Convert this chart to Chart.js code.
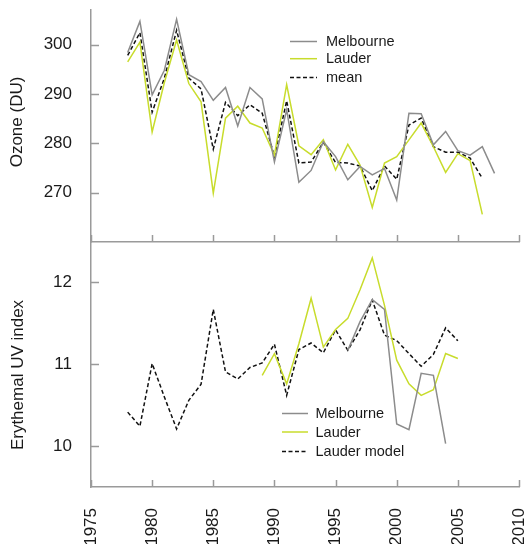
<!DOCTYPE html>
<html><head><meta charset="utf-8">
<script src="https://cdn.jsdelivr.net/npm/chart.js@4.4.1/dist/chart.umd.min.js"></script>
<style>
html,body{margin:0;padding:0;background:#fff;}
#wrap{position:relative;width:524px;height:544px;overflow:hidden;}
canvas{position:absolute;left:0;top:0;}
</style></head><body>
<div id="wrap"><canvas id="topc" width="524" height="544"></canvas><canvas id="botc" width="524" height="544"></canvas></div>
<script>
// ---------- data ----------
const ozoneYears = [1978,1979,1980,1981,1982,1983,1984,1985,1986,1987,1988,1989,1990,1991,1992,1993,1994,1995,1996,1997,1998,1999,2000,2001,2002,2003,2004,2005,2006,2007,2008];
const melbourneOzone = [298.4,304.7,289.8,294.8,305.1,293.9,292.5,288.7,291.3,283.5,291.3,289.0,276.2,286.8,272.1,274.5,280.3,277.3,272.6,275.3,273.6,274.9,268.5,286.1,286.0,279.7,282.4,278.5,277.6,279.3,273.9];
const lauderOzone = [296.5,300.5,282.3,292.3,300.9,292.1,288.4,269.9,285.1,287.5,284.1,283.1,277.6,291.9,279.5,277.7,280.7,274.6,279.8,275.6,267.0,276.0,277.3,280.7,284.1,279.3,274.1,277.9,276.5,265.6];
const meanOzone = [297.8,302.4,286.3,293.2,302.9,293.2,291.0,278.8,288.3,285.6,287.8,286.1,277.3,288.6,276.0,276.2,280.2,276.1,276.0,275.4,270.4,275.4,272.7,283.7,285.1,279.3,278.2,278.2,277.0,272.9];

const modelYears = [1978,1979,1980,1981,1982,1983,1984,1985,1986,1987,1988,1989,1990,1991,1992,1993,1994,1995,1996,1997,1998,1999,2000,2001,2002,2003,2004,2005];
const lauderModelUV = [10.415,10.243,11.008,10.6,10.21,10.56,10.755,11.67,10.906,10.82,10.96,11.016,11.245,10.62,11.18,11.26,11.14,11.42,11.17,11.42,11.785,11.356,11.29,11.13,10.975,11.12,11.445,11.286];
const lauderUVYears = [1989,1990,1991,1992,1993,1994,1995,1996,1997,1998,1999,2000,2001,2002,2003,2004,2005];
const lauderUV = [10.865,11.13,10.76,11.25,11.806,11.21,11.425,11.56,11.91,12.30,11.72,11.05,10.76,10.62,10.69,11.13,11.07];
const melbourneUVYears = [1996,1997,1998,1999,2000,2001,2002,2003,2004];
const melbourneUV = [11.17,11.52,11.79,11.67,10.27,10.20,10.89,10.865,10.03];

const yearTicks = [1975,1980,1985,1990,1995,2000,2005,2010];
const ozoneTicks = [270,280,290,300];
const uvTicks = [10,11,12];
const ozoneTitle = 'Ozone (DU)';
const uvTitle = 'Erythemal UV index';
const ozoneLegend = ['Melbourne','Lauder','mean'];
const uvLegend = ['Melbourne','Lauder','Lauder model'];

// ---------- styles ----------
const GRAY = '#8c8c8c', LIME = '#c8dc2c', BLACK = '#111111', AXIS = '#9a9a9a';
const FONT = '"Liberation Sans", Arial, sans-serif';
const pts = (xs, ys) => xs.map((x, i) => ({x, y: ys[i]})).filter(p => p.y !== undefined);

function ds(label, data, color, dash) {
  return {label, data, borderColor: color, borderWidth: 1.5, borderDash: dash || [],
    pointRadius: 0, fill: false, tension: 0};
}

const inwardTicks = {
  id: 'inwardTicks',
  afterDraw(chart, args, opts) {
    const {ctx, chartArea: a, scales} = chart;
    ctx.save();
    ctx.strokeStyle = AXIS; ctx.lineWidth = 1.5;
    ctx.beginPath();
    yearTicks.forEach(v => {
      const x = Math.round(scales.x.getPixelForValue(v)) + 0.5;
      ctx.moveTo(x, a.bottom); ctx.lineTo(x, a.bottom - 7);
    });
    opts.yTicks.forEach(v => {
      const y = Math.round(scales.y.getPixelForValue(v)) + 0.5;
      ctx.moveTo(a.left, y); ctx.lineTo(a.left + 8, y);
    });
    ctx.stroke();
    ctx.fillStyle = '#1a1a1a';
    ctx.font = '17px ' + FONT;
    ctx.textAlign = 'center'; ctx.textBaseline = 'middle';
    ctx.translate(opts.titleX, opts.titleY);
    ctx.rotate(-Math.PI / 2);
    ctx.fillText(opts.title, 0, 0);
    ctx.restore();
    ctx.save();
    ctx.font = '14.5px ' + FONT;
    ctx.textAlign = 'left'; ctx.textBaseline = 'middle';
    chart.data.datasets.forEach((d, i) => {
      const y = opts.legY[i];
      ctx.strokeStyle = d.borderColor; ctx.lineWidth = 1.5;
      ctx.setLineDash(d.borderDash);
      ctx.beginPath(); ctx.moveTo(opts.legX0, y); ctx.lineTo(opts.legX1, y); ctx.stroke();
      ctx.setLineDash([]);
      ctx.fillStyle = '#1a1a1a';
      ctx.fillText(opts.labels[i], opts.legText, y + 0.5);
    });
    ctx.restore();
  }
};

function zeroPad(s) { s.paddingTop = 0; s.paddingBottom = 0; s.paddingLeft = 0; s.paddingRight = 0; }

function xScale(showLabels, height) {
  return {
    type: 'linear', min: 1975, max: 2010,
    afterBuildTicks: s => { s.ticks = yearTicks.map(v => ({value: v})); },
    afterFit: s => { s.height = height; zeroPad(s); },
    grid: {display: false, drawTicks: false},
    border: {display: true, color: AXIS, width: 1.5},
    ticks: {display: showLabels, autoSkip: false, minRotation: 90, maxRotation: 90, padding: 21,
      color: '#1a1a1a', font: {family: FONT, size: 17}, callback: v => String(v)}
  };
}
function yScale(min, max, ticks) {
  return {
    type: 'linear', min, max,
    afterBuildTicks: s => { s.ticks = ticks.map(v => ({value: v})); },
    afterFit: s => { s.width = 91; zeroPad(s); },
    grid: {display: false, drawTicks: false},
    border: {display: true, color: AXIS, width: 1.5},
    ticks: {padding: 19, color: '#1a1a1a', font: {family: FONT, size: 17}, callback: v => String(v)}
  };
}

const common = {responsive: false, animation: false, devicePixelRatio: 1, events: []};

new Chart(document.getElementById('topc'), {
  type: 'line',
  data: {datasets: [
    ds(ozoneLegend[0], pts(ozoneYears, melbourneOzone), GRAY),
    ds(ozoneLegend[1], pts(ozoneYears, lauderOzone), LIME),
    ds(ozoneLegend[2], pts(ozoneYears, meanOzone), BLACK, [4, 2.5])
  ]},
  options: Object.assign({}, common, {
    layout: {padding: {top: 10, right: 5, left: 0, bottom: 302}},
    scales: {x: xScale(false, 0), y: yScale(260, 307, ozoneTicks)},
    plugins: {legend: {display: false}, tooltip: {enabled: false},
      inwardTicks: {yTicks: ozoneTicks, title: ozoneTitle, titleX: 17.5, titleY: 122,
        legX0: 290, legX1: 317, legText: 326, legY: [41.5, 58.7, 77.5], labels: ozoneLegend}}
  }),
  plugins: [inwardTicks]
});

new Chart(document.getElementById('botc'), {
  type: 'line',
  data: {datasets: [
    ds(uvLegend[0], pts(melbourneUVYears, melbourneUV), GRAY),
    ds(uvLegend[1], pts(lauderUVYears, lauderUV), LIME),
    ds(uvLegend[2], pts(modelYears, lauderModelUV), BLACK, [4, 2.5])
  ]},
  options: Object.assign({}, common, {
    layout: {padding: {top: 241.5, right: 5, left: 0, bottom: 0}},
    scales: {x: xScale(true, 57), y: yScale(9.5, 12.5, uvTicks)},
    plugins: {legend: {display: false}, tooltip: {enabled: false},
      inwardTicks: {yTicks: uvTicks, title: uvTitle, titleX: 18, titleY: 375,
        legX0: 282, legX1: 308, legText: 315.5, legY: [413.5, 432, 451.5], labels: uvLegend}}
  }),
  plugins: [inwardTicks]
});
</script>
</body></html>
